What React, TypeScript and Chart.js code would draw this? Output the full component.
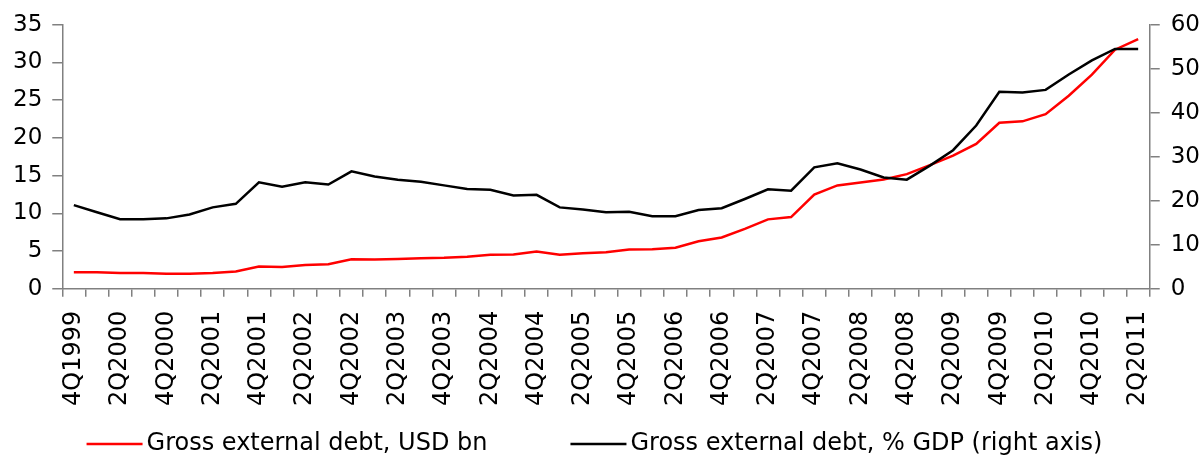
import React, { useEffect, useRef } from "react";
import { Chart, registerables } from "chart.js";

Chart.register(...registerables);

const quarters: string[] = [
  "4Q1999",
  "1Q2000", "2Q2000", "3Q2000", "4Q2000",
  "1Q2001", "2Q2001", "3Q2001", "4Q2001",
  "1Q2002", "2Q2002", "3Q2002", "4Q2002",
  "1Q2003", "2Q2003", "3Q2003", "4Q2003",
  "1Q2004", "2Q2004", "3Q2004", "4Q2004",
  "1Q2005", "2Q2005", "3Q2005", "4Q2005",
  "1Q2006", "2Q2006", "3Q2006", "4Q2006",
  "1Q2007", "2Q2007", "3Q2007", "4Q2007",
  "1Q2008", "2Q2008", "3Q2008", "4Q2008",
  "1Q2009", "2Q2009", "3Q2009", "4Q2009",
  "1Q2010", "2Q2010", "3Q2010", "4Q2010",
  "1Q2011", "2Q2011",
];

const debtUsdBn: number[] = [
  2.2, 2.2, 2.1, 2.1, 2.0, 2.0, 2.1, 2.3, 2.95, 2.9,
  3.15, 3.25, 3.9, 3.88, 3.95, 4.05, 4.1, 4.25, 4.5, 4.55,
  4.93, 4.5, 4.7, 4.85, 5.2, 5.25, 5.45, 6.3, 6.8, 7.95,
  9.2, 9.5, 12.5, 13.7, 14.1, 14.5, 15.2, 16.4, 17.65, 19.2,
  22.0, 22.2, 23.15, 25.6, 28.4, 31.7, 33.1,
];

const debtPctGdp: number[] = [
  19.0, 17.4, 15.8, 15.8, 16.0, 16.9, 18.5, 19.3, 24.2, 23.2,
  24.2, 23.7, 26.7, 25.5, 24.8, 24.3, 23.5, 22.7, 22.5, 21.2,
  21.35, 18.5, 18.0, 17.4, 17.5, 16.5, 16.5, 17.9, 18.3, 20.4,
  22.6, 22.3, 27.6, 28.5, 27.1, 25.3, 24.8, 28.0, 31.5, 37.1,
  44.8, 44.6, 45.2, 48.7, 51.9, 54.5, 54.5,
];

const seriesLabels: string[] = [
  "Gross external debt, USD bn",
  "Gross external debt, % GDP (right axis)",
];

const FONT = "'DejaVu Sans', Verdana, sans-serif";
const Y_FONT_SIZE = 23;
const X_FONT_SIZE = 24;
const LEGEND_FONT_SIZE = 24;
const AXIS_GRAY = "#808080";

const bottomLegend = {
  id: "bottomLegend",
  afterDraw(chart: any) {
    const ctx = chart.ctx as CanvasRenderingContext2D;
    const lineLen = 56;
    const gap = 4;
    const itemGap = 83;
    ctx.save();
    ctx.font = `${LEGEND_FONT_SIZE}px ${FONT}`;
    const items = chart.data.datasets.map((ds: any) => ({
      text: ds.label as string,
      color: ds.borderColor as string,
      w: ctx.measureText(ds.label).width,
    }));
    let total = 0;
    items.forEach((it: any, i: number) => {
      total += lineLen + gap + it.w + (i > 0 ? itemGap : 0);
    });
    let x = chart.width / 2 - 7 - total / 2;
    const y = chart.height - 13;
    items.forEach((it: any) => {
      ctx.strokeStyle = it.color;
      ctx.lineWidth = 2.5;
      ctx.beginPath();
      ctx.moveTo(x, y);
      ctx.lineTo(x + lineLen, y);
      ctx.stroke();
      ctx.fillStyle = "#000";
      ctx.textBaseline = "middle";
      ctx.textAlign = "left";
      ctx.fillText(it.text, x + lineLen + gap, y);
      x += lineLen + gap + it.w + itemGap;
    });
    ctx.restore();
  },
};

export default function App() {
  const canvasRef = useRef<HTMLCanvasElement | null>(null);

  useEffect(() => {
    document.body.style.margin = "0";
    const canvas = canvasRef.current;
    if (!canvas) return;
    Chart.defaults.font.family = FONT;
    Chart.defaults.color = "#000";

    const chart = new Chart(canvas, {
      type: "line",
      data: {
        labels: quarters,
        datasets: [
          {
            label: seriesLabels[0],
            data: debtUsdBn,
            borderColor: "#ff0000",
            backgroundColor: "#ff0000",
            borderWidth: 2.5,
            pointRadius: 0,
            tension: 0,
            yAxisID: "y",
            order: 1,
          },
          {
            label: seriesLabels[1],
            data: debtPctGdp,
            borderColor: "#000000",
            backgroundColor: "#000000",
            borderWidth: 2.5,
            pointRadius: 0,
            tension: 0,
            yAxisID: "y1",
            order: 0,
          },
        ],
      },
      options: {
        responsive: false,
        animation: false,
        layout: { padding: { left: 3, right: -8, top: 0, bottom: 37 } },
        plugins: {
          legend: { display: false },
          tooltip: { enabled: false },
        },
        scales: {
          x: {
            offset: true,
            grid: {
              offset: true,
              drawOnChartArea: false,
              drawTicks: true,
              tickLength: 8,
              color: AXIS_GRAY,
              lineWidth: 1.5,
            },
            border: { color: AXIS_GRAY, width: 1.5 },
            ticks: {
              autoSkip: false,
              maxRotation: 90,
              minRotation: 90,
              padding: 14,
              font: { size: X_FONT_SIZE },
              callback: (_v: any, i: number) => (i % 2 === 0 ? quarters[i] : ""),
            },
          },
          y: {
            position: "left",
            min: 0,
            max: 35,
            grid: {
              drawOnChartArea: false,
              tickLength: 10,
              color: AXIS_GRAY,
              lineWidth: 1.5,
            },
            border: { color: AXIS_GRAY, width: 1.5 },
            ticks: { stepSize: 5, padding: 10, font: { size: Y_FONT_SIZE } },
          },
          y1: {
            position: "right",
            min: 0,
            max: 60,
            grid: {
              drawOnChartArea: false,
              tickLength: 10,
              color: AXIS_GRAY,
              lineWidth: 1.5,
            },
            border: { color: AXIS_GRAY, width: 1.5 },
            ticks: { stepSize: 10, padding: 11, font: { size: Y_FONT_SIZE } },
          },
        },
      },
      plugins: [bottomLegend],
    });

    return () => {
      chart.destroy();
    };
  }, []);

  return <canvas ref={canvasRef} width={1203} height={457} />;
}
